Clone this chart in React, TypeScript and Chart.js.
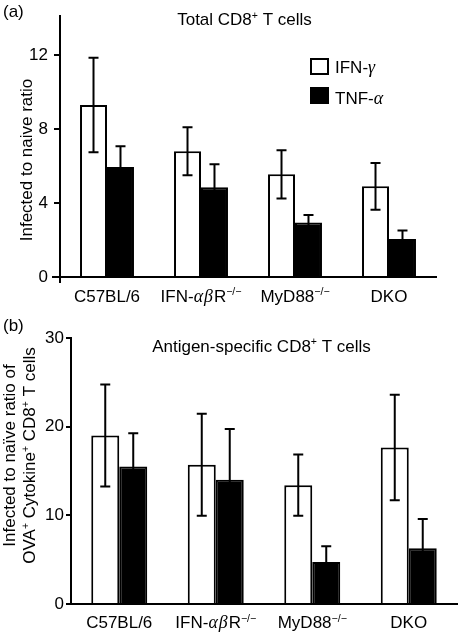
import React, { useEffect, useRef } from "react";
import { Chart, registerables } from "chart.js";

Chart.register(...registerables);

// ---------- data ----------
const categories = ["C57BL/6", "IFN-αβR^{−/−}", "MyD88^{−/−}", "DKO"];
const seriesNames = ["IFN-γ", "TNF-α"];

// Panel (a): Total CD8+ T cells
const ifnA = [9.3, 6.8, 5.55, 4.9];
const ifnErrA = [2.55, 1.3, 1.3, 1.27];
const tnfA = [5.95, 4.85, 2.95, 2.05];
const tnfErrA = [1.12, 1.25, 0.4, 0.47];
const yMaxA = 14.1;
const yStepA = 4;

// Panel (b): Antigen-specific CD8+ T cells
const ifnB = [19.0, 15.7, 13.4, 17.65];
const ifnErrB = [5.75, 5.75, 3.45, 5.95];
const tnfB = [15.5, 14.0, 4.75, 6.3];
const tnfErrB = [3.75, 5.75, 1.75, 3.3];
const yMaxB = 30;
const yStepB = 10;

const FONT = '"Liberation Sans", Arial, Helvetica, sans-serif';
const SIZE = 17;
const LW = 2;

type Seg = { t: string; it?: boolean; sup?: boolean };

function parseRich(s: string): Seg[] {
  const segs: Seg[] = [];
  let buf = "";
  const flush = () => {
    if (buf) segs.push({ t: buf });
    buf = "";
  };
  let i = 0;
  while (i < s.length) {
    const c = s[i];
    if (c === "^" && s[i + 1] === "{") {
      flush();
      const j = s.indexOf("}", i);
      segs.push({ t: s.slice(i + 2, j), sup: true });
      i = j + 1;
      continue;
    }
    if ("αβγ".includes(c)) {
      flush();
      segs.push({ t: c, it: true });
      i++;
      continue;
    }
    buf += c;
    i++;
  }
  flush();
  return segs;
}

function segFont(seg: Seg, size: number) {
  const sz = seg.sup ? size * 0.62 : size;
  if (seg.it) return `italic ${sz * 1.05}px "Liberation Serif", "Times New Roman", serif`;
  return `${sz}px ${FONT}`;
}

function drawRich(
  ctx: CanvasRenderingContext2D,
  s: string,
  x: number,
  y: number,
  align: "left" | "center",
  size = SIZE
) {
  const segs = parseRich(s);
  ctx.save();
  ctx.textBaseline = "alphabetic";
  ctx.textAlign = "left";
  ctx.fillStyle = "#000";
  const widths = segs.map((sg) => {
    ctx.font = segFont(sg, size);
    return ctx.measureText(sg.t).width + (sg.it ? 1 : 0);
  });
  const total = widths.reduce((a, b) => a + b, 0);
  let cx = align === "center" ? x - total / 2 : x;
  segs.forEach((sg, k) => {
    ctx.font = segFont(sg, size);
    ctx.fillText(sg.t, cx, y - (sg.sup ? size * 0.38 : 0));
    cx += widths[k];
  });
  ctx.restore();
}

type PanelCfg = {
  top: number;
  height: number;
  ifn: number[];
  ifnErr: number[];
  tnf: number[];
  tnfErr: number[];
  yMax: number;
  yStep: number;
  yWidth: number;
  padTop: number;
  padRight: number;
  xHeight: number;
  tickLength: number;
  tickPad: number;
  barFrac: number;
  title: string;
  titleX: number;
  titleY: number;
  yTitles: { text: string; x: number }[];
  yTitleY: number;
  catBaseline: number;
  panelLabel: string;
  panelLabelY: number;
  legend: boolean;
  axisCross: boolean;
};

const panelA: PanelCfg = {
  top: 0,
  height: 310,
  ifn: ifnA,
  ifnErr: ifnErrA,
  tnf: tnfA,
  tnfErr: tnfErrA,
  yMax: yMaxA,
  yStep: yStepA,
  yWidth: 60,
  padTop: 3,
  padRight: 24,
  xHeight: 33,
  tickLength: 6,
  tickPad: 6,
  barFrac: 0.574,
  title: "Total CD8^{+} T cells",
  titleX: 244.5,
  titleY: 25,
  yTitles: [{ text: "Infected to naive ratio", x: 31.5 }],
  yTitleY: 160,
  catBaseline: 301.5,
  panelLabel: "(a)",
  panelLabelY: 16.5,
  legend: true,
  axisCross: true,
};

const panelB: PanelCfg = {
  top: 310,
  height: 325,
  ifn: ifnB,
  ifnErr: ifnErrB,
  tnf: tnfB,
  tnfErr: tnfErrB,
  yMax: yMaxB,
  yStep: yStepB,
  yWidth: 71,
  padTop: 28,
  padRight: 3,
  xHeight: 31,
  tickLength: 5,
  tickPad: 2,
  barFrac: 0.58,
  title: "Antigen-specific CD8^{+} T cells",
  titleX: 261.5,
  titleY: 41.5,
  yTitles: [
    { text: "Infected to naïve ratio of", x: 15 },
    { text: "OVA^{+} Cytokine^{+} CD8^{+} T cells", x: 35 },
  ],
  yTitleY: 145.5,
  catBaseline: 318,
  panelLabel: "(b)",
  panelLabelY: 20.5,
  legend: false,
  axisCross: false,
};

function makeDecor(cfg: PanelCfg) {
  return {
    id: "decor",
    afterDatasetsDraw(chart: any) {
      const ctx: CanvasRenderingContext2D = chart.ctx;
      const yS = chart.scales.y;
      const errs = [cfg.ifnErr, cfg.tnfErr];
      const vals = [cfg.ifn, cfg.tnf];
      ctx.save();
      ctx.strokeStyle = "#000";
      ctx.lineWidth = LW;
      [0, 1].forEach((di) => {
        const meta = chart.getDatasetMeta(di);
        meta.data.forEach((bar: any, i: number) => {
          const v = vals[di][i];
          const e = errs[di][i];
          const yT = yS.getPixelForValue(v + e);
          const yB = yS.getPixelForValue(v - e);
          const x = bar.x;
          ctx.beginPath();
          ctx.moveTo(x, yB);
          ctx.lineTo(x, yT);
          ctx.moveTo(x - 5, yT);
          ctx.lineTo(x + 5, yT);
          ctx.moveTo(x - 5, yB);
          ctx.lineTo(x + 5, yB);
          ctx.stroke();
        });
      });
      ctx.restore();
    },
    afterDraw(chart: any) {
      const ctx: CanvasRenderingContext2D = chart.ctx;
      const xS = chart.scales.x;
      const area = chart.chartArea;
      if (cfg.axisCross) {
        ctx.save();
        ctx.strokeStyle = "#000";
        ctx.lineWidth = LW;
        ctx.beginPath();
        ctx.moveTo(area.left, area.bottom);
        ctx.lineTo(area.left, area.bottom + 6);
        ctx.moveTo(area.left - 8, area.bottom);
        ctx.lineTo(area.left, area.bottom);
        ctx.stroke();
        ctx.restore();
      }
      categories.forEach((c, i) => {
        drawRich(ctx, c, xS.getPixelForTick(i), cfg.catBaseline, "center");
      });
      drawRich(ctx, cfg.title, cfg.titleX, cfg.titleY, "center");
      drawRich(ctx, cfg.panelLabel, 3, cfg.panelLabelY, "left");
      cfg.yTitles.forEach((yt) => {
        ctx.save();
        ctx.translate(yt.x, cfg.yTitleY);
        ctx.rotate(-Math.PI / 2);
        drawRich(ctx, yt.text, 0, 0, "center");
        ctx.restore();
      });
      if (cfg.legend) {
        ctx.save();
        ctx.lineWidth = LW;
        ctx.strokeStyle = "#000";
        ctx.fillStyle = "#fff";
        ctx.fillRect(311, 59, 17, 15);
        ctx.strokeRect(311, 59, 17, 15);
        ctx.fillStyle = "#000";
        ctx.fillRect(310, 87, 19, 17);
        ctx.restore();
        drawRich(ctx, seriesNames[0], 335, 73, "left");
        drawRich(ctx, seriesNames[1], 335, 103.5, "left");
      }
    },
  };
}

function Panel({ cfg }: { cfg: PanelCfg }) {
  const ref = useRef<HTMLCanvasElement | null>(null);
  useEffect(() => {
    if (!ref.current) return;
    const chart = new Chart(ref.current, {
      type: "bar",
      data: {
        labels: categories,
        datasets: [
          {
            label: seriesNames[0],
            data: cfg.ifn,
            backgroundColor: "#ffffff",
            borderColor: "#000000",
            borderWidth: LW,
            categoryPercentage: cfg.barFrac,
            barPercentage: 1,
          },
          {
            label: seriesNames[1],
            data: cfg.tnf,
            backgroundColor: "#000000",
            borderColor: "#000000",
            borderWidth: LW,
            categoryPercentage: cfg.barFrac,
            barPercentage: 1,
          },
        ],
      },
      options: {
        responsive: false,
        animation: false,
        devicePixelRatio: 1,
        layout: { padding: { top: cfg.padTop, right: cfg.padRight, left: 0, bottom: 0 } },
        plugins: {
          legend: { display: false },
          tooltip: { enabled: false },
          title: { display: false },
        },
        scales: {
          x: {
            type: "category",
            grid: { display: false },
            border: { display: true, color: "#000", width: LW },
            ticks: { display: false },
            afterFit: (s: any) => {
              s.height = cfg.xHeight;
            },
          },
          y: {
            min: 0,
            max: cfg.yMax,
            grid: {
              display: true,
              drawOnChartArea: false,
              drawTicks: true,
              tickLength: cfg.tickLength,
              color: "#000",
              lineWidth: LW,
            },
            border: { display: true, color: "#000", width: LW },
            ticks: {
              stepSize: cfg.yStep,
              includeBounds: false,
              padding: cfg.tickPad,
              color: "#000",
              font: { family: FONT, size: SIZE },
            },
            afterFit: (s: any) => {
              s.width = cfg.yWidth;
            },
          },
        },
      } as any,
      plugins: [makeDecor(cfg)],
    });
    return () => chart.destroy();
  }, [cfg]);
  return (
    <canvas
      ref={ref}
      width={460}
      height={cfg.height}
      style={{ position: "absolute", left: 0, top: cfg.top, width: 460, height: cfg.height, display: "block" }}
    />
  );
}

export default function App() {
  return (
    <div style={{ position: "absolute", left: 0, top: 0, width: 460, height: 635, background: "#fff" }}>
      <Panel cfg={panelA} />
      <Panel cfg={panelB} />
    </div>
  );
}
